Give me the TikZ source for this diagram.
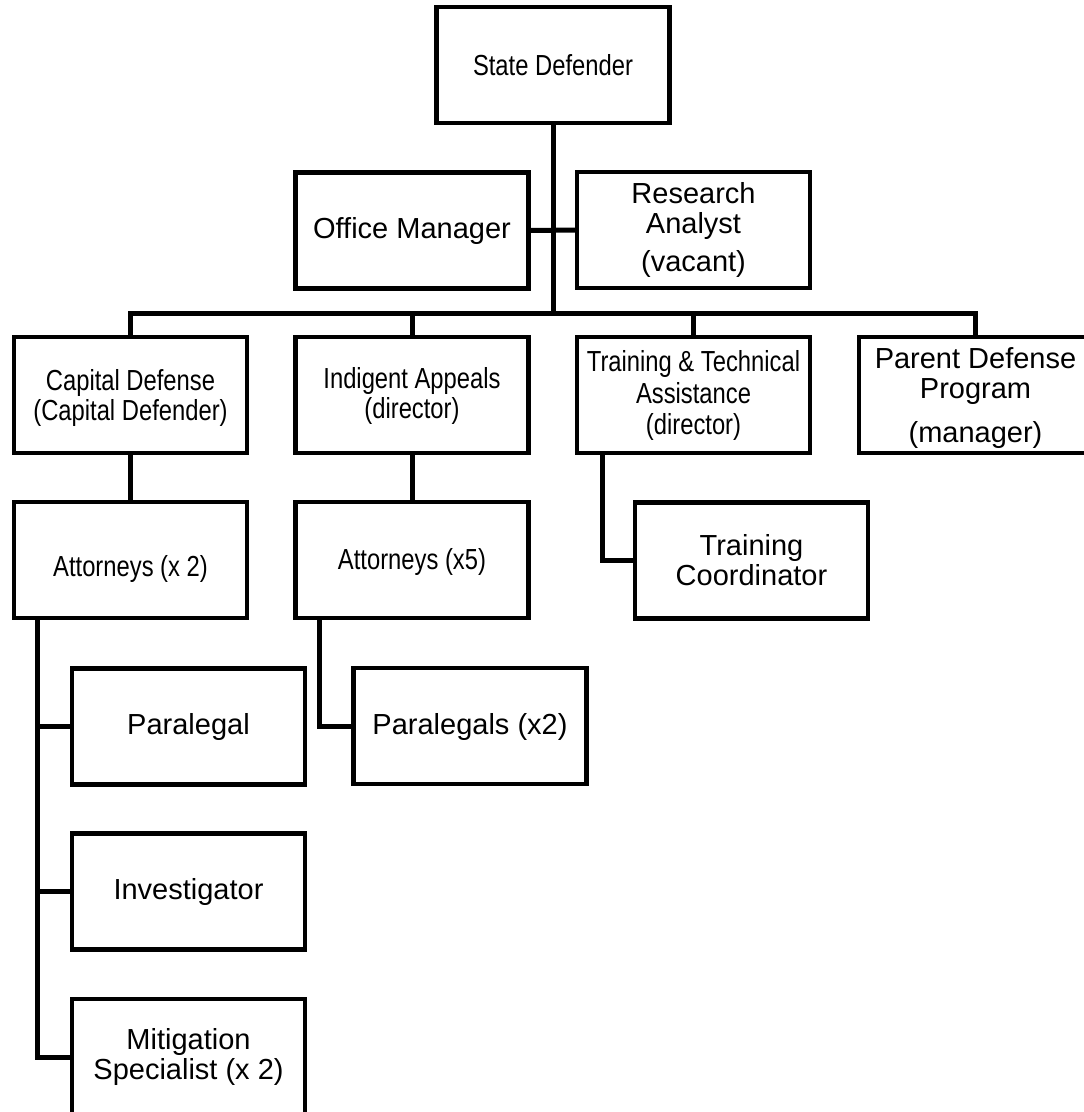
\documentclass[tikz,border=0pt]{standalone}
\usepackage{fontspec}
\setmainfont{Liberation Sans}
\newfontfamily\narrowfont{Liberation Sans}[FakeStretch=0.82]
\newcommand\lowertext[2]{\raisebox{-#1}[\height][\depth]{\begin{tabular}{@{}c@{}}#2\end{tabular}}}
\begin{document}
\begin{tikzpicture}[x=1pt,y=-1pt,
  box/.style={draw=black, line width=4.3pt, minimum width=233pt, minimum height=116pt,
              inner sep=0pt, align=center, font=\fontsize{29}{30}\selectfont},
  nbox/.style={box, font=\narrowfont\fontsize{29}{30}\selectfont},
  conn/.style={draw=black, line width=5pt}]
\useasboundingbox (0,0) rectangle (1084,1112);
\clip (0,0) rectangle (1084,1112);
% boxes
\node[nbox] (sd)  at (553,65)     {State Defender};
\node[box]  (om)  at (412,230.5)  {Office Manager};
\node[box]  (ra)  at (693.5,230)  {Research\\Analyst\\[8pt](vacant)};
\node[nbox] (cd)  at (130.5,395)  {\lowertext{4pt}{Capital Defense\\(Capital Defender)}};
\node[nbox] (ia)  at (412,395)    {\lowertext{2pt}{Indigent Appeals\\(director)}};
\node[nbox] (tt)  at (693.5,395)  {Training \& Technical\\[2pt]Assistance\\[1pt](director)};
\node[box]  (pd)  at (975.5,395)  {\lowertext{4pt}{Parent Defense\\Program\\[14pt](manager)}};
\node[nbox] (a2)  at (130.5,560)  {\lowertext{10pt}{Attorneys (x 2)}};
\node[nbox] (a5)  at (412,560)    {\lowertext{3pt}{Attorneys (x5)}};
\node[box]  (tc)  at (751.5,560.5){Training\\Coordinator};
\node[box]  (pl)  at (188.5,726.5){Paralegal};
\node[box]  (pls) at (470,726)    {\lowertext{2pt}{Paralegals (x2)}};
\node[box]  (inv) at (188.5,891.5){Investigator};
\node[box]  (mit) at (188.5,1057) {Mitigation\\Specialist (x 2)};
% helper coordinates
\coordinate (bus) at (553,313);
\coordinate (spx) at (37,0);
\coordinate (s2x) at (319,0);
\coordinate (s3x) at (602,0);
% connectors
\draw[conn] (sd.south) -- (bus);
\draw[conn] (om.east) -- (ra.west);
\draw[conn] (cd.north) -- (cd.north |- bus) -- (pd.north |- bus) -- (pd.north);
\draw[conn] (ia.north) -- (ia.north |- bus);
\draw[conn] (tt.north) -- (tt.north |- bus);
\draw[conn] (cd.south) -- (a2.north);
\draw[conn] (ia.south) -- (a5.north);
\draw[conn] (a2.south -| spx) |- (mit.west);
\draw[conn] (spx |- pl.west) -- (pl.west);
\draw[conn] (spx |- inv.west) -- (inv.west);
\draw[conn] (a5.south -| s2x) |- (pls.west);
\draw[conn] (tt.south -| s3x) |- (tc.west);
\end{tikzpicture}
\end{document}
